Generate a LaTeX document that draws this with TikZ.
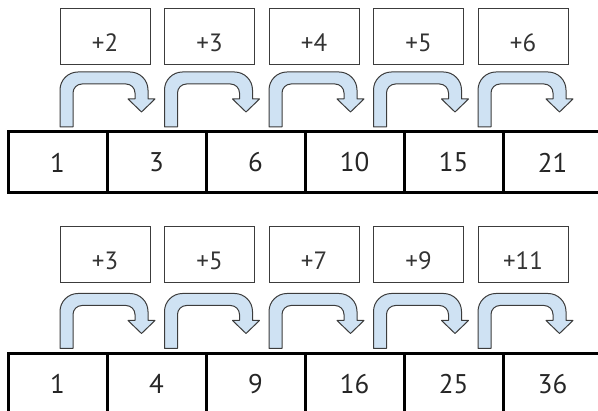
\documentclass[tikz,border=0pt]{standalone}
\usepackage{fontspec}
\setmainfont{PT Sans}
\usetikzlibrary{positioning,calc}

\definecolor{hopblue}{HTML}{CFE2F3}
\definecolor{hopline}{HTML}{3C3C3C}

\tikzset{
  cell/.style={draw=black, line width=3pt, outer sep=0pt, inner sep=0pt,
    minimum width=99pt, minimum height=61pt,
    font=\fontsize{27}{27}\selectfont, text=black!85},
  addbox/.style={draw=hopline, line width=1pt, outer sep=0pt, inner sep=0pt,
    minimum width=90pt, minimum height=56pt, text height=29pt,
    font=\fontsize{25}{25}\selectfont, text=black!80},
  hop/.style={fill=hopblue, draw=hopline, line width=1pt, line join=round},
  hoparrow/.pic={
    \draw[hop] (0,0) -- (0,37) arc[start angle=180, end angle=90, radius=18]
      -- (70,55) arc[start angle=90, end angle=0, radius=18]
      -- (88,28) -- (95,28) -- (81.5,15) -- (68,28) -- (75,28)
      -- (75,34) arc[start angle=0, end angle=90, radius=9]
      -- (22,43) arc[start angle=90, end angle=180, radius=9]
      -- (13,0) -- cycle;
  }
}

\begin{document}
\begin{tikzpicture}[x=1pt,y=1pt]
\useasboundingbox (0,0) rectangle (598,411);
\clip (0,0) rectangle (598,411);

% first sequence
\foreach \v [count=\i] in {1,3,6,10,15,21}
  \node[cell] (t\i) at ({57.5+99*(\i-1)},248.5) {\v};
\foreach \v [count=\i] in {2,3,4,5,6}
  \node[addbox] (p\i) at ({105+104.5*(\i-1)},374) {+\v};
\foreach \i in {1,...,5}
  \pic at ($(p\i.south west |- t\i.north)+(0,5)$) {hoparrow};

% second sequence
\foreach \v [count=\i] in {1,4,9,16,25,36}
  \node[cell] (b\i) at ({57.5+99*(\i-1)},27) {\v};
\foreach \v [count=\i] in {3,5,7,9,11}
  \node[addbox] (q\i) at ({105+104.5*(\i-1)},156) {+\v};
\foreach \i in {1,...,5}
  \pic at ($(q\i.south west |- b\i.north)+(0,5)$) {hoparrow};

\end{tikzpicture}
\end{document}
